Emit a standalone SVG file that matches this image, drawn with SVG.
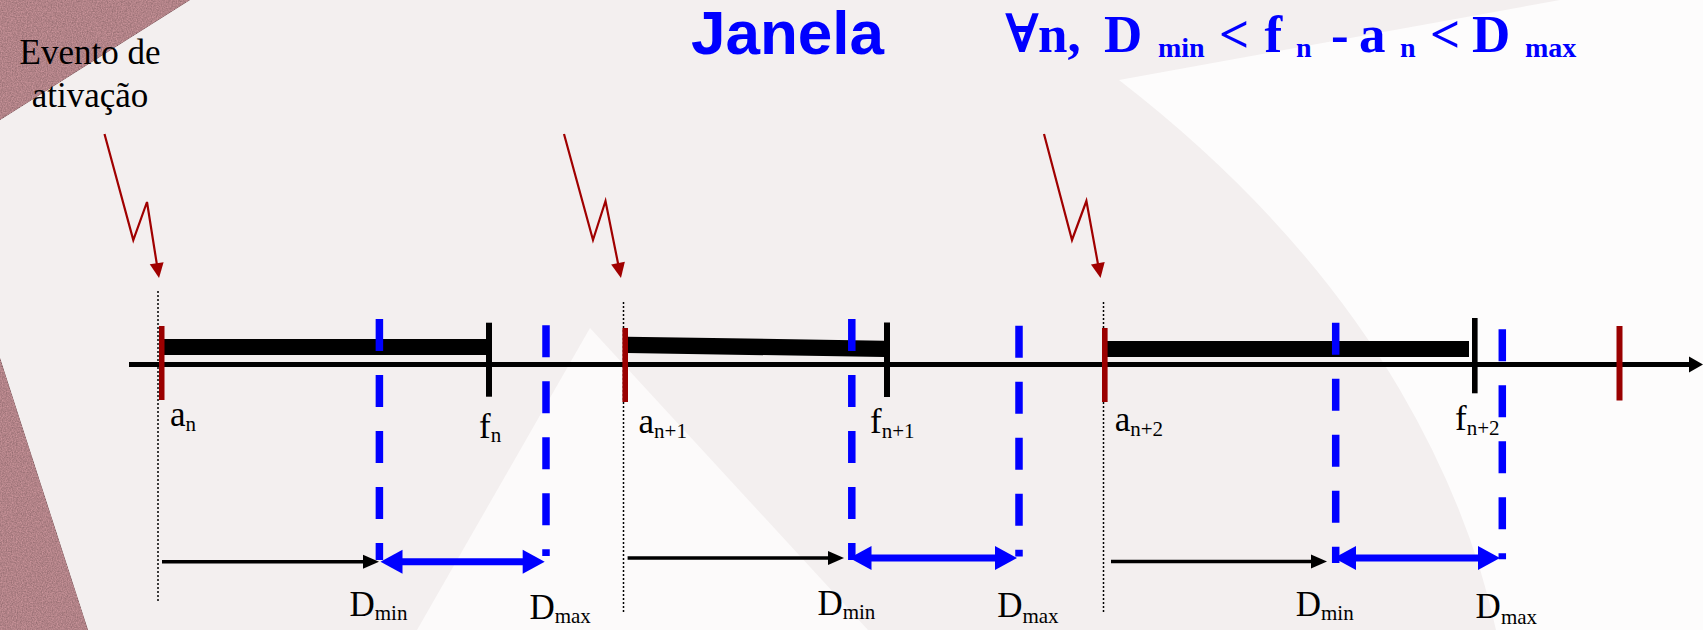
<svg xmlns="http://www.w3.org/2000/svg" width="1703" height="630" viewBox="0 0 1703 630">
<style>
.lab{font-family:"Liberation Serif","Times New Roman",serif;font-size:35px;fill:#000}
.sub{font-size:21px}
.dot{stroke:#000;stroke-width:1.5;stroke-dasharray:2 2;fill:none}
.bdash{stroke:#0000ff;stroke-width:7.5;stroke-dasharray:32 24;fill:none}
.red{fill:#9a0000}
.blk{fill:#000}
.bolt{stroke:#a00000;stroke-width:2.2;fill:none;marker-end:url(#bolthead)}
.thin{stroke:#000;stroke-width:3.5;fill:none;marker-end:url(#blackhead)}
.dbl{stroke:#0000ff;stroke-width:7;fill:none;marker-start:url(#bluehead);marker-end:url(#bluehead)}
.maroon{fill:#ad7f84;filter:url(#grain)}
</style>
<defs>
<filter id="grain" x="0" y="0" width="1" height="1" color-interpolation-filters="sRGB">
<feTurbulence type="fractalNoise" baseFrequency="0.8" numOctaves="2" seed="3" result="n"/>
<feColorMatrix in="n" type="matrix" values="1 0 0 0 0  1 0 0 0 0  1 0 0 0 0  0 0 0 0 1" result="g"/>
<feComposite in="SourceGraphic" in2="g" operator="arithmetic" k1="0.45" k2="0.8" k3="0" k4="0"/>
</filter>
<marker id="bolthead" markerUnits="userSpaceOnUse" orient="auto" refX="2" refY="0" markerWidth="20" markerHeight="20" overflow="visible"><path d="M0,-7 L15,0 L0,7 z" fill="#a00000"/></marker>
<marker id="blackhead" markerUnits="userSpaceOnUse" orient="auto" refX="2" refY="0" markerWidth="20" markerHeight="20" overflow="visible"><path d="M0,-7 L16,0 L0,7 z" fill="#000"/></marker>
<marker id="bluehead" markerUnits="userSpaceOnUse" orient="auto-start-reverse" refX="2" refY="0" markerWidth="30" markerHeight="30" overflow="visible"><path d="M0,-12 L22,0 L0,12 z" fill="#0000ff"/></marker>
<marker id="axishead" markerUnits="userSpaceOnUse" orient="auto" refX="3" refY="0" markerWidth="20" markerHeight="20" overflow="visible"><path d="M0,-8 L14,0 L0,8 z" fill="#000"/></marker>
</defs>

<g id="background">
<rect x="0" y="0" width="1703" height="630" fill="#f3efef"/>
<path d="M1119,80 L1560,0 L1703,0 L1703,630 L1496,630 Q1470,510 1400,390 Q1300,220 1119,80 z" fill="#fdfcfc"/>
<polygon points="590,328 417,630 868,630" fill="#fcfafa"/>
<polygon class="maroon" points="0,0 190,0 0,120"/>
<polygon class="maroon" points="0,358 88,630 0,630"/>
</g>

<g id="title">
<text x="691" y="54" font-family="Liberation Sans, Arial, sans-serif" font-weight="bold" font-size="62" fill="#0000ff">Janela</text>
<text font-family="Liberation Serif, DejaVu Serif, serif" font-weight="bold" font-size="53" fill="#0000ff"><tspan x="1005" y="52">∀</tspan><tspan x="1038" y="52">n,</tspan><tspan x="1104" y="52">D</tspan><tspan x="1158" y="57" font-size="28">min</tspan><tspan x="1219" y="52">&lt;</tspan><tspan x="1264.5" y="52">f</tspan><tspan x="1296" y="57.3" font-size="28">n</tspan><tspan x="1331" y="52">-</tspan><tspan x="1359" y="52">a</tspan><tspan x="1400" y="57.3" font-size="28">n</tspan><tspan x="1430" y="52">&lt;</tspan><tspan x="1472" y="52">D</tspan><tspan x="1525" y="57" font-size="28">max</tspan></text>
</g>

<g id="evento">
<text class="lab" font-size="36" text-anchor="middle"><tspan x="90" y="64">Evento de</tspan><tspan x="90" y="107">ativação</tspan></text>
</g>

<g id="guides">
<line class="dot" x1="158" y1="291" x2="158" y2="602"/>
<line class="dot" x1="623.5" y1="302" x2="623.5" y2="613"/>
<line class="dot" x1="1103.5" y1="302" x2="1103.5" y2="614"/>
</g>

<g id="job-n">
<rect class="blk" x="161" y="339" width="325" height="16"/>
</g>
<g id="job-n1">
<polygon class="blk" points="627,336.7 884,340.7 884,357 627,353"/>
</g>
<g id="job-n2">
<rect class="blk" x="1106" y="341" width="363" height="16"/>
</g>

<g id="axis">
<line x1="129" y1="364.5" x2="1692" y2="364.5" stroke="#000" stroke-width="5" marker-end="url(#axishead)"/>
</g>

<g id="deadlines">
<line class="bdash" x1="379.4" y1="319" x2="379.4" y2="560"/>
<line class="bdash" x1="546" y1="325.3" x2="546" y2="556"/>
<line class="bdash" x1="851.8" y1="319" x2="851.8" y2="560"/>
<line class="bdash" x1="1019" y1="325.8" x2="1019" y2="556.4"/>
<line class="bdash" x1="1335.7" y1="322.7" x2="1335.7" y2="563"/>
<line class="bdash" x1="1502.3" y1="329.3" x2="1502.3" y2="559.3"/>
</g>

<g id="ticks">
<rect class="red" x="159" y="326" width="5.5" height="74"/>
<rect class="red" x="622.4" y="328" width="5.6" height="74"/>
<rect class="red" x="1102" y="328" width="5.6" height="74"/>
<rect class="red" x="1616.5" y="326" width="6" height="74.5"/>
<rect class="blk" x="486" y="322.7" width="6" height="74"/>
<rect class="blk" x="884" y="322.5" width="6" height="74.5"/>
<rect class="blk" x="1472" y="318" width="5.6" height="75.3"/>
</g>

<g id="connectors">
<path class="bolt" d="M104.5,134 L133.3,240 L147,202 L157,265.2"/>
<path class="bolt" d="M564,134 L593,240 L605.5,201 L618.4,265.2"/>
<path class="bolt" d="M1044,134 L1072,240 L1086.4,201 L1098.2,265.2"/>
<line class="thin" x1="162" y1="561.7" x2="365" y2="561.7"/>
<line class="thin" x1="627.6" y1="558" x2="830" y2="558"/>
<line class="thin" x1="1111" y1="561.5" x2="1313" y2="561.5"/>
<line class="dbl" x1="400.5" y1="561.7" x2="524.7" y2="561.7"/>
<line class="dbl" x1="869.5" y1="558" x2="997" y2="558"/>
<line class="dbl" x1="1354" y1="558" x2="1480" y2="558"/>
</g>

<g id="labels">
<text class="lab" x="170" y="426">a<tspan class="sub" dy="5">n</tspan></text>
<text class="lab" x="479" y="438">f<tspan class="sub" dy="4">n</tspan></text>
<text class="lab" x="638.5" y="433">a<tspan class="sub" dy="5">n+1</tspan></text>
<text class="lab" x="870" y="433">f<tspan class="sub" dy="4.5">n+1</tspan></text>
<text class="lab" x="1114.7" y="431">a<tspan class="sub" dy="5">n+2</tspan></text>
<text class="lab" x="1455" y="430">f<tspan class="sub" dy="4.5">n+2</tspan></text>
<text class="lab" x="349.5" y="616">D<tspan class="sub" dy="4">min</tspan></text>
<text class="lab" x="529.4" y="619">D<tspan class="sub" dy="4">max</tspan></text>
<text class="lab" x="817.4" y="614.5">D<tspan class="sub" dy="4.5">min</tspan></text>
<text class="lab" x="997.2" y="617">D<tspan class="sub" dy="6">max</tspan></text>
<text class="lab" x="1295.7" y="616">D<tspan class="sub" dy="4">min</tspan></text>
<text class="lab" x="1475.6" y="618">D<tspan class="sub" dy="6">max</tspan></text>
</g>
</svg>
